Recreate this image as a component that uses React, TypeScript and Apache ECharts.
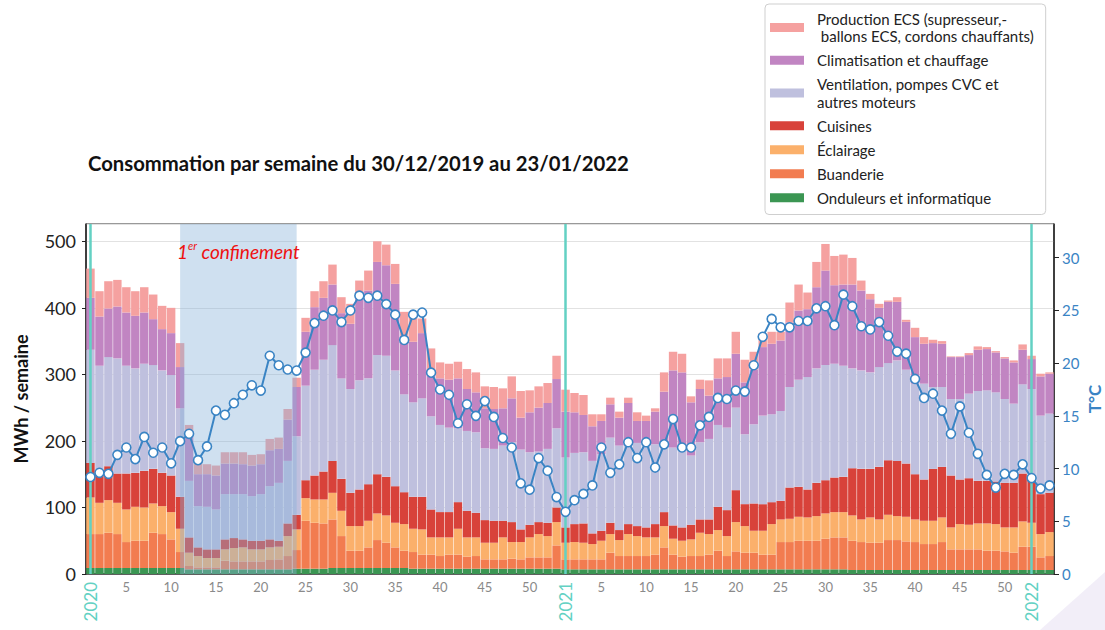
import React, { useEffect, useRef } from 'react';
import * as echarts from 'echarts';

// ---- categories: ISO weeks from 2020-W01 to 2022-W03 ----
const yearWeeks: [number, number][] = [[2020, 53], [2021, 52], [2022, 3]];
const categories: string[] = [];
yearWeeks.forEach(([y, n]) => { for (let w = 1; w <= n; w++) categories.push(`${y}-${w}`); });
const weekOf = (k: string) => Number(k.split('-')[1]);
const yearOf = (k: string) => k.split('-')[0];

const title = 'Consommation par semaine du 30/12/2019 au 23/01/2022';
const confinementWeeks = ['2020-11', '2020-24'];
const yearStarts = ['2020-1', '2021-1', '2022-1'];

// ---- series values (MWh / semaine) ----
const onduleurs = [
  9, 9, 9, 9, 9, 9, 9, 9, 9, 9,
  9, 7, 7, 7, 7, 7, 7, 7, 7, 7,
  7, 7, 7, 8, 8, 8, 8, 9, 9, 9,
  9, 9, 9, 9, 9, 9, 8, 8, 8, 8,
  8, 8, 8, 8, 8, 8, 8, 8, 8, 8,
  8, 8, 8, 7, 7, 7, 7, 7, 7, 7,
  7, 7, 7, 7, 7, 7, 7, 7, 7, 7,
  7, 7, 7, 7, 7, 7, 7, 7, 7, 7,
  7, 7, 7, 7, 7, 6, 6, 6, 6, 6,
  6, 6, 6, 6, 6, 6, 6, 6, 6, 6,
  6, 6, 6, 6, 6, 6, 6, 6,
];
const buanderie = [
  51, 51, 53, 51, 39, 41, 41, 53, 51, 43,
  24, 5, 3, 3, 3, 13, 12, 12, 12, 12,
  14, 15, 20, 28, 72, 69, 68, 73, 48, 26,
  26, 31, 42, 38, 31, 26, 25, 21, 21, 19,
  21, 21, 18, 19, 14, 14, 14, 15, 14, 17,
  17, 17, 35, 15, 15, 15, 15, 15, 25, 20,
  20, 20, 20, 22, 33, 22, 19, 20, 20, 22,
  28, 20, 27, 25, 25, 22, 22, 41, 41, 43,
  43, 43, 46, 48, 48, 44, 42, 41, 41, 45,
  45, 43, 42, 39, 39, 42, 31, 31, 31, 31,
  29, 29, 28, 26, 35, 35, 19, 21,
];
const eclairage = [
  55, 47, 49, 47, 49, 51, 50, 44, 42, 41,
  35, 20, 17, 14, 14, 17, 20, 21, 18, 18,
  19, 19, 30, 31, 34, 35, 36, 40, 38, 37,
  37, 40, 40, 41, 37, 40, 35, 38, 26, 28,
  26, 39, 29, 28, 25, 25, 33, 25, 26, 30,
  35, 32, 35, 25, 26, 25, 23, 28, 28, 24,
  33, 30, 28, 26, 32, 24, 24, 25, 35, 31,
  31, 30, 44, 40, 33, 36, 46, 34, 35, 36,
  35, 37, 38, 38, 38, 38, 34, 38, 35, 38,
  36, 37, 34, 35, 35, 37, 33, 38, 37, 39,
  41, 40, 36, 38, 38, 36, 35, 36,
];
const cuisines = [
  52, 45, 51, 44, 54, 51, 55, 52, 50, 55,
  48, 23, 13, 13, 13, 15, 15, 12, 13, 13,
  12, 9, 19, 22, 27, 36, 42, 48, 48, 50,
  55, 55, 59, 58, 55, 48, 48, 49, 42, 38,
  38, 40, 40, 37, 34, 33, 25, 30, 19, 19,
  18, 20, 22, 23, 27, 29, 16, 15, 17, 15,
  15, 15, 15, 20, 21, 20, 20, 22, 20, 22,
  35, 39, 48, 33, 41, 40, 33, 28, 47, 45,
  42, 50, 50, 52, 53, 71, 76, 73, 79, 82,
  83, 80, 68, 62, 78, 76, 78, 67, 70, 64,
  64, 64, 67, 67, 72, 68, 60, 59,
];
const ventilation = [
  170, 161, 164, 173, 162, 157, 161, 156, 154, 151,
  133, 85, 62, 64, 60, 68, 66, 68, 67, 70,
  80, 87, 94, 118, 142, 159, 168, 174, 151, 156,
  164, 159, 179, 182, 174, 147, 142, 148, 140, 131,
  127, 111, 120, 121, 108, 108, 113, 120, 120, 109,
  106, 111, 119, 105, 107, 107, 109, 115, 128, 127,
  124, 125, 123, 120, 96, 117, 118, 104, 116, 121,
  123, 124, 124, 105, 119, 133, 132, 135, 151, 161,
  169, 172, 173, 171, 167, 150, 148, 145, 150, 146,
  151, 141, 136, 144, 123, 120, 115, 121, 127, 135,
  136, 134, 126, 119, 134, 133, 118, 119,
];
const climatisation = [
  78, 74, 73, 78, 80, 79, 77, 69, 62, 63,
  62, 70, 48, 49, 51, 46, 46, 45, 46, 45,
  54, 51, 62, 74, 81, 94, 93, 91, 98, 98,
  133, 132, 140, 136, 130, 88, 91, 98, 66, 70,
  72, 75, 63, 60, 60, 60, 56, 66, 48, 60,
  66, 69, 74, 69, 61, 56, 52, 50, 50, 42,
  58, 33, 37, 49, 85, 116, 115, 80, 80, 65,
  70, 76, 81, 78, 82, 103, 106, 106, 97, 104,
  102, 122, 142, 118, 122, 126, 120, 110, 89, 92,
  88, 72, 70, 60, 66, 65, 63, 63, 58, 62,
  62, 60, 61, 62, 52, 45, 59, 60,
];
const production = [
  44, 38, 41, 40, 38, 37, 38, 37, 35, 38,
  36, 14, 16, 15, 15, 17, 17, 18, 16, 15,
  17, 17, 16, 14, 21, 24, 25, 30, 24, 30,
  17, 30, 31, 31, 30, 36, 39, 22, 36, 24,
  24, 25, 30, 30, 33, 33, 30, 33, 40, 33,
  32, 30, 35, 33, 29, 30, 18, 10, 10, 9,
  8, 13, 8, 5, 29, 28, 28, 9, 14, 23,
  30, 28, 33, 34, 27, 21, 18, 13, 30, 39,
  25, 38, 40, 44, 45, 40, 15, 8, 6, 2,
  7, 3, 14, 10, 5, 4, 1, 1, 3, 5,
  3, 2, 2, 3, 8, 5, 4, 2,
];
// ---- temperature (°C) ----
const temperature = [
  9.2, 9.6, 9.5, 11.3, 12.0, 10.9, 13.0, 11.5, 12.0, 10.5,
  12.6, 13.3, 10.8, 12.1, 15.5, 15.1, 16.2, 17.0, 17.9, 17.4,
  20.7, 19.8, 19.4, 19.3, 21.0, 23.8, 24.5, 25.0, 23.9, 25.0,
  26.4, 26.2, 26.4, 25.6, 24.6, 22.2, 24.6, 24.8, 19.1, 17.5,
  17.0, 14.3, 16.1, 15.0, 16.4, 14.9, 12.9, 12.0, 8.6, 8.0,
  11.0, 9.8, 7.3, 5.9, 7.0, 7.6, 8.4, 12.0, 9.6, 10.4,
  12.5, 11.0, 12.5, 10.1, 12.3, 14.7, 12.0, 12.0, 14.1, 14.9,
  16.7, 16.6, 17.4, 17.3, 19.8, 22.5, 24.2, 23.4, 23.4, 24.0,
  24.0, 25.2, 25.4, 23.6, 26.5, 25.4, 23.5, 23.2, 23.9, 22.6,
  21.1, 20.9, 18.5, 16.7, 17.1, 15.5, 13.3, 15.9, 13.4, 11.4,
  9.4, 8.2, 9.5, 9.4, 10.4, 9.1, 8.1, 8.4,
];

const leftTicks = [0, 100, 200, 300, 400, 500];
const rightTicks = [0, 5, 10, 15, 20, 25, 30];

const N = {
  prod: 'Production ECS (supresseur,-\n ballons ECS, cordons chauffants)',
  clim: 'Climatisation et chauffage',
  vent: 'Ventilation, pompes CVC et\nautres moteurs',
  cuis: 'Cuisines',
  ecl: 'Éclairage',
  buan: 'Buanderie',
  ond: 'Onduleurs et informatique',
};

const barDefs = [
  { name: N.ond, data: onduleurs, color: '#3b9653' },
  { name: N.buan, data: buanderie, color: '#f27c50' },
  { name: N.ecl, data: eclairage, color: '#fbb06b' },
  { name: N.cuis, data: cuisines, color: '#d8423a' },
  { name: N.vent, data: ventilation, color: '#bfc0de' },
  { name: N.clim, data: climatisation, color: '#c185c2' },
  { name: N.prod, data: production, color: '#f5a1a0' },
];

const FONT = 'Lato, "Open Sans", sans-serif';
const TEAL = '#63d1c3';
const BLUE = '#3a84c4';

export default function App() {
  const ref = useRef<HTMLDivElement>(null);
  useEffect(() => {
    document.body.style.margin = '0';
    const chart = echarts.init(ref.current!, null, { renderer: 'svg' });
    const option: any = {
      animation: false,
      backgroundColor: '#fff',
      textStyle: { fontFamily: FONT },
      title: {
        text: title, left: 83, top: 148,
        textStyle: { fontSize: 20.3, fontWeight: 'bold', color: '#111', fontFamily: FONT },
      },
      legend: {
        data: [N.prod, N.clim, N.vent, N.cuis, N.ecl, N.buan, N.ond],
        orient: 'vertical', left: 765, top: 4,
        itemWidth: 34, itemHeight: 9, itemGap: 6.5, icon: 'rect',
        padding: [6, 12, 8, 5],
        backgroundColor: '#fff', borderColor: '#cfcfcf', borderWidth: 1, borderRadius: 4,
        selectedMode: false,
        textStyle: { fontSize: 15, color: '#222', lineHeight: 17.5, padding: [0, 0, 0, 8], fontFamily: FONT },
      },
      grid: { left: 86, right: 51, top: 224, bottom: 56, show: true, borderColor: '#333', borderWidth: 1, outerBoundsMode: 'none' },
      graphic: [
        {
          type: 'polygon', silent: true, z: -1,
          shape: { points: [[1040, 630], [1105, 572], [1105, 630]] },
          style: { fill: 'rgba(196,176,222,0.22)' },
        },
      ],
      xAxis: [
        {
          type: 'category', data: categories, boundaryGap: true,
          axisLine: { lineStyle: { color: '#333', width: 1.5 } },
          axisTick: {
            alignWithLabel: true, length: 5, lineStyle: { color: '#333' },
            interval: (i: number, v: string) => weekOf(v) % 5 === 0 || weekOf(v) === 1,
          },
          axisLabel: {
            interval: (i: number, v: string) => weekOf(v) % 5 === 0,
            formatter: (v: string) => String(weekOf(v)),
            color: '#8a8a8a', fontSize: 13, margin: 6, fontFamily: FONT,
          },
          splitLine: { show: false },
        },
        {
          type: 'category', data: categories, position: 'bottom', boundaryGap: true,
          axisLine: { show: false }, axisTick: { show: false }, splitLine: { show: false },
          axisLabel: {
            interval: (i: number, v: string) => weekOf(v) === 1,
            formatter: (v: string) => yearOf(v),
            rotate: 90, color: TEAL, fontSize: 17, margin: 8, fontFamily: FONT,
          },
        },
      ],
      yAxis: [
        {
          type: 'value', min: 0, max: 526, interval: 100, position: 'left',
          axisLine: { show: true, lineStyle: { color: '#222', width: 1.5 } },
          axisTick: { show: true, length: 4, lineStyle: { color: '#222' } },
          axisLabel: {
            color: '#222', fontSize: 18, margin: 10, showMaxLabel: false, fontFamily: FONT,
            formatter: (v: number) => (leftTicks.includes(v) ? String(v) : ''),
          },
          splitLine: { show: true, lineStyle: { color: '#e2e2e2' } },
          name: 'MWh / semaine', nameLocation: 'middle', nameGap: 56,
          nameTextStyle: { fontSize: 18, fontWeight: 'bold', color: '#111', fontFamily: FONT },
        },
        {
          type: 'value', min: 0, max: 33.2, interval: 5, position: 'right',
          axisLine: { show: true, lineStyle: { color: '#222', width: 1.5 } },
          axisTick: { show: true, length: 5, lineStyle: { color: '#222' } },
          axisLabel: {
            color: BLUE, fontSize: 15, margin: 8, showMaxLabel: false, fontFamily: FONT,
            formatter: (v: number) => (rightTicks.includes(v) ? String(v) : ''),
          },
          splitLine: { show: false },
          name: 'T°C', nameLocation: 'middle', nameGap: 32, nameRotate: 90, nameMoveOverlap: false,
          nameTextStyle: { fontSize: 17, fontWeight: 'bold', color: BLUE, fontFamily: FONT },
        },
      ],
      series: [
        ...barDefs.map((b) => ({
          type: 'bar', name: b.name, stack: 'total', data: b.data,
          xAxisIndex: 0, yAxisIndex: 0, barCategoryGap: '6%',
          itemStyle: { color: b.color }, z: 2,
        })),
        {
          type: 'line', name: 'annotations', xAxisIndex: 0, yAxisIndex: 0,
          data: categories.map(() => null), symbol: 'none', silent: true, z: 3,
          markArea: {
            z: 3, silent: true,
            itemStyle: { color: 'rgba(135,177,217,0.4)' },
            label: {
              show: true, position: 'insideTop', distance: 16,
              formatter: '{a|1}{s|er}{a| confinement}',
              rich: {
                a: { fontSize: 19, fontStyle: 'italic', color: '#ee1111', fontFamily: FONT, lineHeight: 22 },
                s: { fontSize: 11, fontStyle: 'italic', color: '#ee1111', fontFamily: FONT, verticalAlign: 'top', lineHeight: 12 },
              },
            },
            data: [[{ xAxis: confinementWeeks[0] }, { xAxis: confinementWeeks[1] }]],
          },
          markLine: {
            z: 3, silent: true, symbol: 'none',
            label: { show: false },
            lineStyle: { color: TEAL, width: 2.5, type: 'solid' },
            data: yearStarts.map((k) => ({ xAxis: k })),
          },
        },
        {
          type: 'line', name: 'T°C', data: temperature, xAxisIndex: 0, yAxisIndex: 1, z: 6,
          symbol: 'circle', symbolSize: 9, showAllSymbol: true,
          lineStyle: { color: BLUE, width: 2 },
          itemStyle: { color: '#fff', borderColor: BLUE, borderWidth: 1.6 },
        },
      ],
    };
    chart.setOption(option);
    return () => chart.dispose();
  }, []);
  return <div ref={ref} style={{ width: 1105, height: 630 }} />;
}
